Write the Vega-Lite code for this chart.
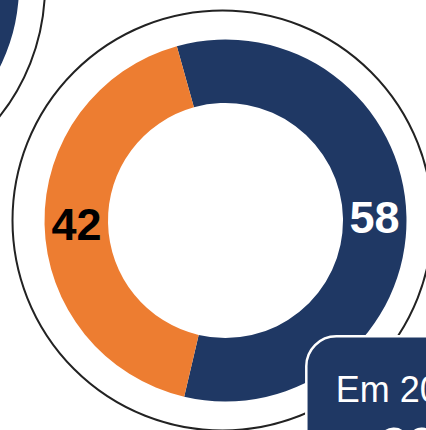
{
  "$schema": "https://vega.github.io/schema/vega-lite/v6.json",
  "width": 426,
  "height": 430,
  "padding": 0,
  "autosize": {"type": "none"},
  "background": "white",
  "config": {"view": {"stroke": null}},
  "datasets": {
    "main": [
      {"col": 1, "row": 1, "seg": "Sim", "ord": 1, "value": 58},
      {"col": 1, "row": 1, "seg": "Não", "ord": 2, "value": 42}
    ],
    "prev": [
      {"col": 0, "row": 0, "seg": "Sim", "ord": 1, "value": 58},
      {"col": 0, "row": 0, "seg": "Não", "ord": 2, "value": 42}
    ],
    "panels": [{"col": 0, "row": 0}, {"col": 1, "row": 1}],
    "callout": [{"col": 1.2085, "row": 1.4938, "col2": 2.5, "row2": 3, "label": "Em 2022", "big": "30"}]
  },
  "encoding": {
    "x": {"field": "col", "type": "quantitative", "axis": null, "scale": {"domain": [0, 1], "range": [-162, 225.5], "nice": false, "zero": false}},
    "y": {"field": "row", "type": "quantitative", "axis": null, "scale": {"domain": [0, 1], "range": [-14, 220.5], "nice": false, "zero": false}}
  },
  "layer": [
    {
      "data": {"name": "panels"},
      "mark": {"type": "arc", "theta": 0, "theta2": 6.2832, "outerRadius": 210, "innerRadius": 0, "filled": false, "color": "#222222", "strokeWidth": 2, "xOffset": -3}
    },
    {
      "data": {"name": "prev"},
      "mark": {"type": "arc", "outerRadius": 181, "innerRadius": 117.5},
      "encoding": {
        "theta": {"field": "value", "type": "quantitative", "stack": true, "scale": {"range": [-0.2723, 6.0109]}},
        "order": {"field": "ord", "type": "quantitative"},
        "color": {"field": "seg", "type": "nominal", "scale": {"domain": ["Sim", "Não"], "range": ["#1F3864", "#ED7D31"]}, "legend": null}
      }
    },
    {
      "data": {"name": "main"},
      "mark": {"type": "arc", "outerRadius": 181, "innerRadius": 117.5},
      "encoding": {
        "theta": {"field": "value", "type": "quantitative", "stack": true, "scale": {"range": [-0.2723, 6.0109]}},
        "order": {"field": "ord", "type": "quantitative"},
        "color": {"field": "seg", "type": "nominal", "scale": {"domain": ["Sim", "Não"], "range": ["#1F3864", "#ED7D31"]}, "legend": null}
      }
    },
    {
      "data": {"name": "main"},
      "mark": {"type": "text", "radius": 149, "fontSize": 45, "fontWeight": "bold", "font": "Liberation Sans, Arial, sans-serif", "align": "center", "baseline": "middle", "dy": 2},
      "encoding": {
        "theta": {"field": "value", "type": "quantitative", "stack": true, "scale": {"range": [-0.2723, 6.0109]}},
        "order": {"field": "ord", "type": "quantitative"},
        "text": {"field": "value", "type": "quantitative"},
        "color": {"condition": {"test": "datum.seg === 'Sim'", "value": "#FFFFFF"}, "value": "#000000"}
      }
    },
    {
      "data": {"name": "callout"},
      "mark": {"type": "rect", "cornerRadius": 30, "fill": "#1F3864", "stroke": "#FFFFFF", "strokeWidth": 2.5},
      "encoding": {
        "x2": {"field": "col2"},
        "y2": {"field": "row2"}
      }
    },
    {
      "data": {"name": "callout"},
      "mark": {"type": "text", "align": "left", "baseline": "alphabetic", "dx": 29.5, "dy": 65.7, "fontSize": 36, "font": "Liberation Sans, Arial, sans-serif", "color": "#FFFFFF"},
      "encoding": {"text": {"field": "label"}}
    },
    {
      "data": {"name": "callout"},
      "mark": {"type": "text", "align": "left", "baseline": "alphabetic", "dx": 73.7, "dy": 126.7, "fontSize": 50, "fontWeight": "bold", "font": "Liberation Sans, Arial, sans-serif", "color": "#FFFFFF"},
      "encoding": {"text": {"field": "big"}}
    }
  ]
}
